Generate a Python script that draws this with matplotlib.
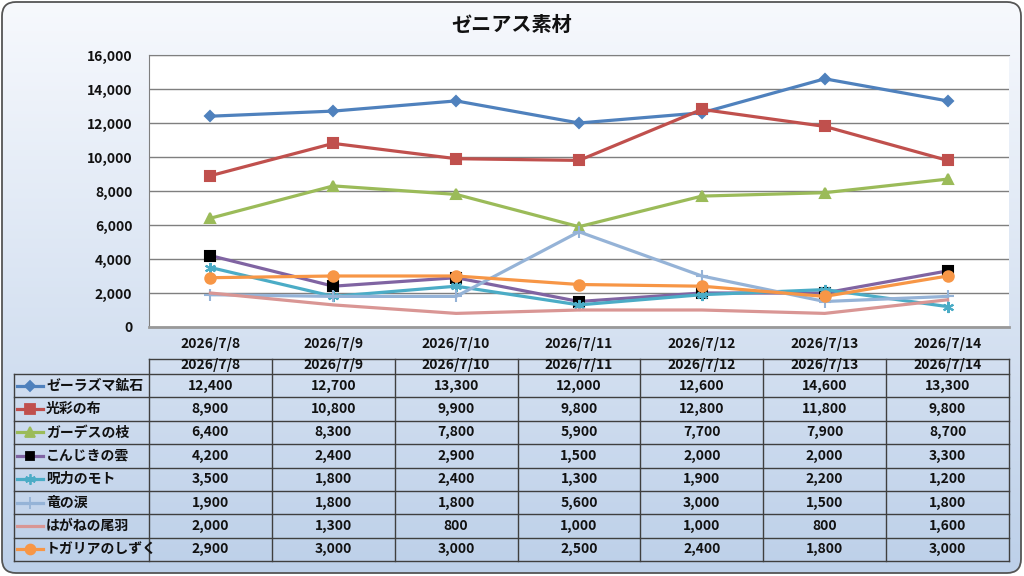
import numpy as np
import matplotlib
matplotlib.use("Agg")
import matplotlib.pyplot as plt
from matplotlib.patches import FancyBboxPatch
from matplotlib.ticker import FuncFormatter, MultipleLocator

plt.rcParams['font.family'] = ['Noto Sans CJK JP', 'DejaVu Sans']

title = "ゼニアス素材"
dates = ["2026/7/8", "2026/7/9", "2026/7/10", "2026/7/11", "2026/7/12", "2026/7/13", "2026/7/14"]
names = ["ゼーラズマ鉱石", "光彩の布", "ガーデスの枝", "こんじきの雲", "呪力のモト", "竜の涙", "はがねの尾羽", "トガリアのしずく"]
zeerazuma = [12400, 12700, 13300, 12000, 12600, 14600, 13300]
kousai = [8900, 10800, 9900, 9800, 12800, 11800, 9800]
gaadesu = [6400, 8300, 7800, 5900, 7700, 7900, 8700]
konjiki = [4200, 2400, 2900, 1500, 2000, 2000, 3300]
juryoku = [3500, 1800, 2400, 1300, 1900, 2200, 1200]
ryuu = [1900, 1800, 1800, 5600, 3000, 1500, 1800]
hagane = [2000, 1300, 800, 1000, 1000, 800, 1600]
togaria = [2900, 3000, 3000, 2500, 2400, 1800, 3000]
series = [zeerazuma, kousai, gaadesu, konjiki, juryoku, ryuu, hagane, togaria]

styles = [
    dict(color="#4F81BD", marker="D", ms=5.5, mfc="#4F81BD", mec="#4F81BD"),
    dict(color="#C0504D", marker="s", ms=7, mfc="#C0504D", mec="#C0504D"),
    dict(color="#9BBB59", marker="^", ms=7, mfc="#9BBB59", mec="#9BBB59"),
    dict(color="#8064A2", marker="s", ms=6.5, mfc="black", mec="black"),
    dict(color="#4BACC6", marker=(6, 2, 0), ms=8, mfc="#4BACC6", mec="#4BACC6"),
    dict(color="#95B3D7", marker="+", ms=9, mfc="#95B3D7", mec="#95B3D7"),
    dict(color="#D99694", marker="None", ms=0, mfc="#D99694", mec="#D99694"),
    dict(color="#F79646", marker="o", ms=7.5, mfc="#F79646", mec="#F79646"),
]

W, H = 1024, 576
fig = plt.figure(figsize=(W / 100, H / 100), dpi=100)
FW = "bold"
FS = 10

# background overlay axes in pixel coords
bg = fig.add_axes([0, 0, 1, 1])
bg.set_xlim(0, W)
bg.set_ylim(H, 0)
bg.axis("off")
top_c = np.array([0xF7, 0xF9, 0xFD]) / 255
bot_c = np.array([0xBD, 0xD0, 0xE9]) / 255
t = np.linspace(0, 1, 256)[:, None]
grad = top_c[None, :] * (1 - t) + bot_c[None, :] * t
grad = np.repeat(grad[:, None, :], 2, axis=1)
im = bg.imshow(grad, extent=[2, W - 2, H - 3, 2], aspect="auto", zorder=0)
box = FancyBboxPatch((2, 2), W - 5, H - 5, boxstyle="round,pad=0,rounding_size=14",
                     fc="none", ec="#555555", lw=1.3, zorder=2)
bg.add_patch(box)
im.set_clip_path(box)

bg.text(W / 2, 24, title, ha="center", va="center", fontsize=14.5, fontweight="bold", color="#111111")

# plot area
L, R, T, B = 149, 1009, 55, 327
ax = fig.add_axes([L / W, 1 - B / H, (R - L) / W, (B - T) / H])
ax.set_facecolor("white")
x = np.arange(len(dates))
for vals, st in zip(series, styles):
    ax.plot(x, vals, color=st["color"], lw=2.3, marker=st["marker"], ms=st["ms"],
            mfc=st["mfc"], mec=st["mec"], mew=1.5, solid_joinstyle="miter", clip_on=False)
ax.set_xlim(-0.5, len(dates) - 0.5)
ax.set_ylim(0, 16000)
ax.yaxis.set_major_locator(MultipleLocator(2000))
ax.yaxis.set_major_formatter(FuncFormatter(lambda v, p: f"{int(v):,}"))
ax.grid(axis="y", color="#7F7F7F", lw=1)
ax.set_axisbelow(True)
ax.set_xticks(x)
ax.set_xticklabels(dates)
ax.tick_params(axis="both", length=0, labelsize=FS, colors="#111111", pad=12)
ax.tick_params(axis="x", pad=7)
for lab in ax.get_xticklabels() + ax.get_yticklabels():
    lab.set_fontweight(FW)
for s in ["top", "left"]:
    ax.spines[s].set_color("#7F7F7F")
ax.spines["right"].set_visible(False)
ax.spines["bottom"].set_color("#999999")
ax.spines["bottom"].set_linewidth(2)

# data table
tab = fig.add_axes([0, 0, 1, 1], facecolor="none")
tab.set_xlim(0, W)
tab.set_ylim(H, 0)
tab.axis("off")
col_w = (R - L) / len(dates)
hdr_top, hdr_bot = 359, 374
row_h = (561 - hdr_bot) / len(names)
lc = "#3F3F3F"
tab.plot([L, R], [hdr_top, hdr_top], color=lc, lw=1)
for i in range(len(dates) + 1):
    tab.plot([L + i * col_w] * 2, [hdr_top, 561], color=lc, lw=1)
tab.plot([14, 14], [hdr_bot, 561], color=lc, lw=1)
for j in range(len(names) + 1):
    yy = hdr_bot + j * row_h
    tab.plot([14, R], [yy, yy], color=lc, lw=1)
for i, d in enumerate(dates):
    tab.text(L + (i + 0.5) * col_w, hdr_top + 6, d, ha="center", va="center",
             fontsize=FS, fontweight=FW, color="#111111")
for j, (nm, vals, st) in enumerate(zip(names, series, styles)):
    yc = hdr_bot + (j + 0.5) * row_h
    tab.plot([17, 43], [yc, yc], color=st["color"], lw=2.3)
    if st["marker"] != "None":
        tab.plot([30], [yc], marker=st["marker"], ms=st["ms"] * 0.95, mfc=st["mfc"],
                 mec=st["mec"], mew=1.3, color=st["color"])
    tab.text(46, yc, nm, ha="left", va="center", fontsize=FS, fontweight=FW, color="#111111")
    for i, v in enumerate(vals):
        tab.text(L + (i + 0.5) * col_w, yc, f"{v:,}", ha="center", va="center",
                 fontsize=FS, fontweight=FW, color="#111111")

fig.savefig("out.png", dpi=100)
